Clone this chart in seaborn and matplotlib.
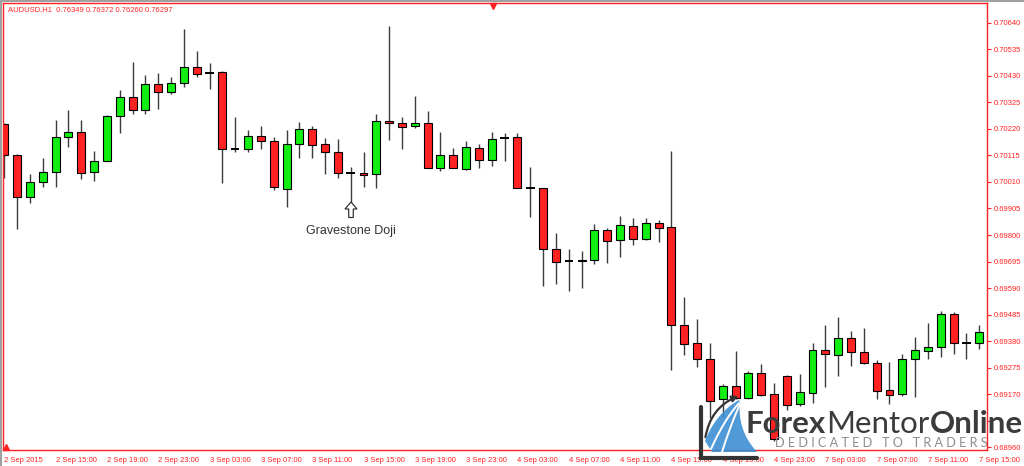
import numpy as np
import pandas as pd
import matplotlib.pyplot as plt
import seaborn as sns
from matplotlib.patches import Polygon
from matplotlib.lines import Line2D

# AUDUSD H1 candles, 2 Sep 11:00 -> 7 Sep 15:00
opens = [0.70239, 0.70117, 0.69952, 0.70009, 0.70051, 0.70187, 0.70208, 0.70049, 0.70094, 0.70270,
         0.70345, 0.70293, 0.70396, 0.70367, 0.70403, 0.70466, 0.70440, 0.70444, 0.70142, 0.70142,
         0.70191, 0.70171, 0.69981, 0.70161, 0.70220, 0.70159, 0.70130, 0.70047, 0.70044, 0.70040,
         0.70251, 0.70243, 0.70230, 0.70243, 0.70066, 0.70117, 0.70062, 0.70146, 0.70097, 0.70184,
         0.70187, 0.69987, 0.69987, 0.69745, 0.69697, 0.69697, 0.69700, 0.69820, 0.69780, 0.69835,
         0.69783, 0.69848, 0.69831, 0.69444, 0.69372, 0.69308, 0.69150, 0.69202, 0.69154, 0.69254,
         0.69170, 0.69241, 0.69130, 0.69174, 0.69344, 0.69327, 0.69394, 0.69337, 0.69295, 0.69187,
         0.69170, 0.69311, 0.69342, 0.69358, 0.69489, 0.69374, 0.69372]
highs = [0.70243, 0.70119, 0.70041, 0.70106, 0.70255, 0.70295, 0.70255, 0.70133, 0.70275, 0.70374,
         0.70486, 0.70433, 0.70440, 0.70424, 0.70615, 0.70528, 0.70479, 0.70450, 0.70266, 0.70216,
         0.70231, 0.70187, 0.70216, 0.70247, 0.70231, 0.70185, 0.70179, 0.70070, 0.70127, 0.70279,
         0.70627, 0.70268, 0.70349, 0.70292, 0.70209, 0.70146, 0.70173, 0.70160, 0.70209, 0.70204,
         0.70205, 0.70070, 0.69988, 0.69810, 0.69746, 0.69737, 0.69844, 0.69829, 0.69875, 0.69866,
         0.69866, 0.69860, 0.70134, 0.69556, 0.69467, 0.69374, 0.69210, 0.69340, 0.69263, 0.69290,
         0.69216, 0.69245, 0.69251, 0.69374, 0.69443, 0.69477, 0.69420, 0.69432, 0.69306, 0.69299,
         0.69331, 0.69397, 0.69451, 0.69498, 0.69496, 0.69411, 0.69444]
lows = [0.70024, 0.69824, 0.69928, 0.69989, 0.69991, 0.70150, 0.70021, 0.70015, 0.70093, 0.70203,
        0.70278, 0.70278, 0.70300, 0.70357, 0.70384, 0.70424, 0.70379, 0.70007, 0.70129, 0.70130,
        0.70140, 0.69978, 0.69912, 0.70104, 0.70104, 0.70041, 0.70024, 0.69932, 0.69991, 0.69985,
        0.70176, 0.70139, 0.70223, 0.70065, 0.70053, 0.70065, 0.70057, 0.70064, 0.70074, 0.70093,
        0.69985, 0.69873, 0.69598, 0.69607, 0.69579, 0.69589, 0.69684, 0.69688, 0.69713, 0.69759,
        0.69779, 0.69772, 0.69266, 0.69324, 0.69279, 0.69075, 0.69081, 0.69150, 0.69150, 0.69163,
        0.68985, 0.69107, 0.69124, 0.69137, 0.69199, 0.69242, 0.69282, 0.69289, 0.69153, 0.69130,
        0.69163, 0.69160, 0.69311, 0.69316, 0.69329, 0.69308, 0.69348]
closes = [0.70117, 0.69952, 0.70009, 0.70051, 0.70187, 0.70209, 0.70047, 0.70094, 0.70270, 0.70345,
          0.70293, 0.70396, 0.70367, 0.70403, 0.70466, 0.70437, 0.70440, 0.70139, 0.70142, 0.70191,
          0.70171, 0.69989, 0.70161, 0.70220, 0.70157, 0.70129, 0.70047, 0.70047, 0.70036, 0.70251,
          0.70242, 0.70227, 0.70243, 0.70066, 0.70117, 0.70066, 0.70148, 0.70097, 0.70180, 0.70184,
          0.69986, 0.69987, 0.69745, 0.69695, 0.69697, 0.69702, 0.69819, 0.69776, 0.69839, 0.69783,
          0.69848, 0.69829, 0.69444, 0.69368, 0.69308, 0.69143, 0.69202, 0.69157, 0.69254, 0.69166,
          0.68992, 0.69126, 0.69179, 0.69344, 0.69329, 0.69394, 0.69339, 0.69295, 0.69183, 0.69167,
          0.69311, 0.69344, 0.69356, 0.69489, 0.69374, 0.69374, 0.69418]

time_labels = ["2 Sep 2015", "2 Sep 15:00", "2 Sep 19:00", "2 Sep 23:00", "3 Sep 03:00",
               "3 Sep 07:00", "3 Sep 11:00", "3 Sep 15:00", "3 Sep 19:00", "3 Sep 23:00",
               "4 Sep 03:00", "4 Sep 07:00", "4 Sep 11:00", "4 Sep 15:00", "4 Sep 19:00",
               "4 Sep 23:00", "7 Sep 03:00", "7 Sep 07:00", "7 Sep 11:00", "7 Sep 15:00"]
price_ticks = [0.70640, 0.70535, 0.70430, 0.70325, 0.70220, 0.70115, 0.70010, 0.69905, 0.69800,
               0.69695, 0.69590, 0.69485, 0.69380, 0.69275, 0.69170, 0.69065, 0.68960]
hidden_tick = 0.69065  # covered by the watermark in the original
header = "AUDUSD,H1  0.76349 0.76372 0.76260 0.76297"

RED = "#ff2222"
GREEN = "#11ee11"
W, H = 1024, 466

sns.set_style("white")
plt.rcParams['font.family'] = ['Liberation Sans', 'DejaVu Sans']

def fx(px):
    return px / W

def fy(py):
    return 1 - py / H

df = pd.DataFrame({"open": opens, "high": highs, "low": lows, "close": closes})
df["x"] = np.arange(len(df))
up = df["close"] > df["open"]
doji = df["close"] == df["open"]
body = df[~doji]

fig = plt.figure(figsize=(W / 100, H / 100), dpi=100)
ax = fig.add_axes([fx(3), fy(450.3), 984 / W, 447 / H])

ax.vlines(df["x"], df["low"], df["high"], color="#3c3c3c", lw=1, zorder=1)
ax.bar(body["x"], (body["close"] - body["open"]).abs(),
       bottom=body[["open", "close"]].min(axis=1), width=0.62,
       color=np.where(up[~doji], GREEN, RED), edgecolor="black", linewidth=0.8, zorder=2)
ax.hlines(df["close"][doji], df["x"][doji] - 0.33, df["x"][doji] + 0.33,
          color="black", lw=1.4, zorder=2)

ax.set_xlim(-0.1, 76.6)
ax.set_ylim(0.689484, 0.707167)

ax.set_xticks(np.arange(0, len(df), 4))
ax.set_xticklabels(time_labels)
for lbl in ax.get_xticklabels():
    lbl.set_ha("left")
ax.yaxis.tick_right()
ax.set_yticks(price_ticks)
ax.set_yticklabels(["" if v == hidden_tick else f"{v:.5f}" for v in price_ticks])
ax.tick_params(axis="both", direction="out", length=3, width=0.8, color=RED,
               labelcolor=RED, labelsize=5.5, pad=1.5)
ax.tick_params(axis="y", left=False, right=True)
for side in ["top", "right", "bottom", "left"]:
    ax.spines[side].set_color(RED)
    ax.spines[side].set_linewidth(1)
ax.set_xlabel("")
ax.set_ylabel("")

# window frame bits
fig.add_artist(Line2D([0, 1], [fy(0.5), fy(0.5)], color="#a0a0a0", lw=1.5, transform=fig.transFigure))
fig.add_artist(Line2D([fx(0.7), fx(0.7)], [0, 1], color="#a0a0a0", lw=1.5, transform=fig.transFigure))
fig.add_artist(Line2D([fx(493)], [fy(6)], marker="v", markersize=5, color=RED,
                      linestyle="none", transform=fig.transFigure))
fig.add_artist(Line2D([fx(5.5)], [fy(447)], marker="^", markersize=4, color=RED,
                      linestyle="none", transform=fig.transFigure))

fig.text(fx(8), fy(10), header, color=RED, fontsize=5.5, ha="left", va="center")

# annotation
arrow = [(351, 202), (357, 209), (353.3, 209), (353.3, 217.5), (348.7, 217.5), (348.7, 209), (345, 209)]
fig.add_artist(Polygon([(fx(a), fy(b)) for a, b in arrow], closed=True, facecolor="white",
                       edgecolor="#333333", lw=0.9, transform=fig.transFigure))
fig.text(fx(351), fy(230.5), "Gravestone Doji", ha="center", va="center", fontsize=9, color="#333333")

# logo
def bez(p0, p1, p2, n=30):
    t = np.linspace(0, 1, n)[:, None]
    p0, p1, p2 = map(np.array, (p0, p1, p2))
    return (1 - t) ** 2 * p0 + 2 * (1 - t) * t * p1 + t ** 2 * p2

edge_a = bez((705, 441), (716, 413), (739, 400))
edge_b = bez((740, 402), (737, 430), (757, 452))
shape = np.vstack([edge_a, edge_b, [(712, 452)]])
fig.add_artist(Polygon([(fx(a), fy(b)) for a, b in shape], closed=True, facecolor="#3d8fd3",
                       edgecolor="none", transform=fig.transFigure, alpha=0.9))
for s in [((711, 449), (724, 420), (739, 403)), ((722, 452), (731, 424), (740, 404))]:
    pts = bez(*s)
    fig.add_artist(Line2D(fx(pts[:, 0]), fy(pts[:, 1]), color="white", lw=1.4,
                          transform=fig.transFigure))
fig.add_artist(Line2D([fx(701), fx(701), fx(757)], [fy(407), fy(458), fy(458)], color="#333333",
                      lw=3, solid_joinstyle="miter", transform=fig.transFigure))
ax.annotate("", xy=(fx(741), fy(395)), xytext=(fx(705), fy(440)), xycoords="figure fraction",
            textcoords="figure fraction",
            arrowprops=dict(arrowstyle="-|>", connectionstyle="arc3,rad=-0.3", color="#333333",
                            lw=1.6, mutation_scale=9))

x0 = fx(746)
fig.canvas.draw()
for word, weight in [("Forex", "bold"), ("Mentor", "normal"), ("Online", "bold")]:
    t = fig.text(x0, fy(433.3), word, fontsize=22.5, fontweight=weight, family="Lato",
                 color="#3b3b3b", ha="left", va="baseline")
    fig.canvas.draw()
    x0 = t.get_window_extent().x1 / W
fig.text(fx(775), fy(447.3), "D E D I C A T E D   T O   T R A D E R S", fontsize=9.1, family="Lato",
         color="#8c8c8c", ha="left", va="baseline")

fig.savefig("out.png", dpi=100)
